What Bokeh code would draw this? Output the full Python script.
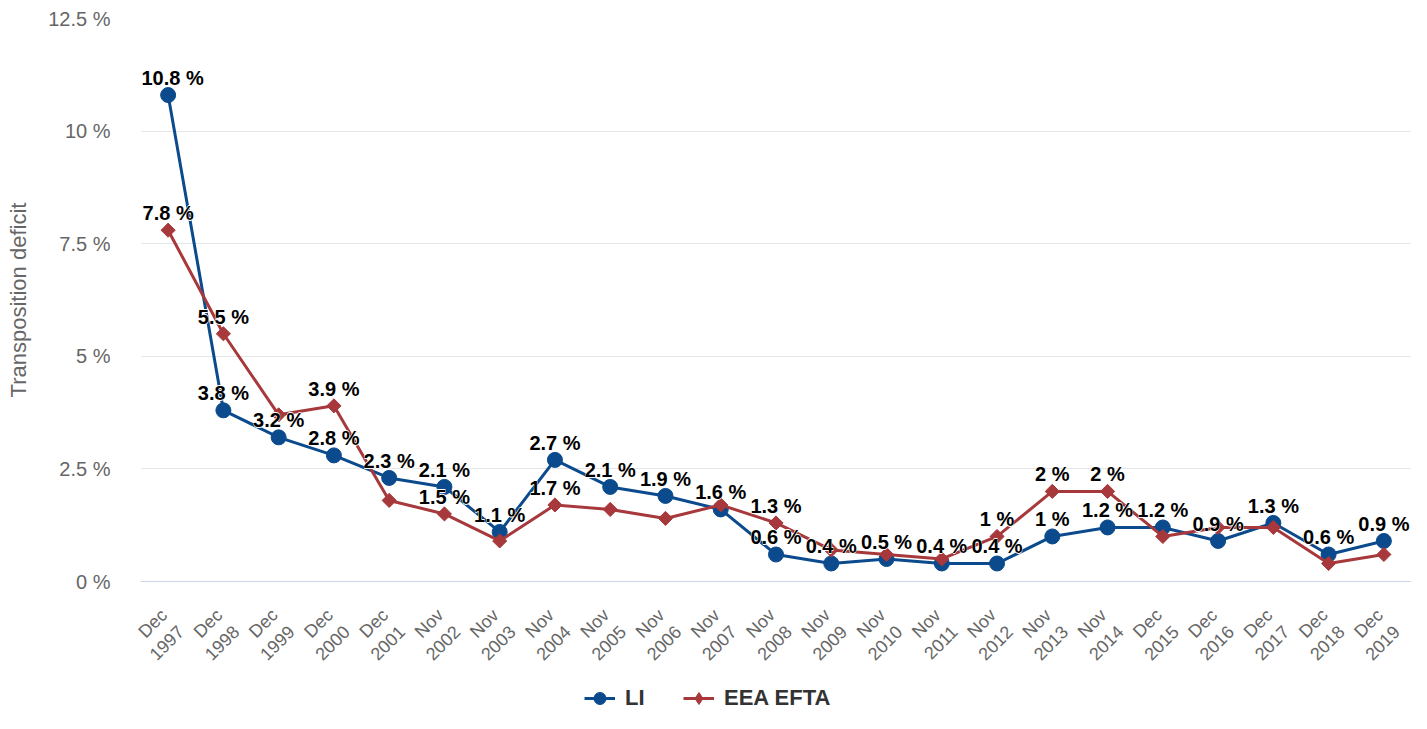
import math
from bokeh.plotting import figure
from bokeh.layouts import column
from bokeh.models import (ColumnDataSource, FixedTicker, Legend, LegendItem, Range1d,
                          CustomJSTickFormatter)
from bokeh.embed import file_html
from bokeh.resources import INLINE
from bokeh.core.properties import value

# ---- data ----
months = ["Dec", "Dec", "Dec", "Dec", "Dec", "Nov", "Nov", "Nov", "Nov", "Nov", "Nov", "Nov",
          "Nov", "Nov", "Nov", "Nov", "Nov", "Nov", "Dec", "Dec", "Dec", "Dec", "Dec"]
years = [1997, 1998, 1999, 2000, 2001, 2002, 2003, 2004, 2005, 2006, 2007, 2008,
         2009, 2010, 2011, 2012, 2013, 2014, 2015, 2016, 2017, 2018, 2019]
li = [10.8, 3.8, 3.2, 2.8, 2.3, 2.1, 1.1, 2.7, 2.1, 1.9, 1.6, 0.6,
      0.4, 0.5, 0.4, 0.4, 1.0, 1.2, 1.2, 0.9, 1.3, 0.6, 0.9]
eea_efta = [7.8, 5.5, 3.7, 3.9, 1.8, 1.5, 0.9, 1.7, 1.6, 1.4, 1.7, 1.3,
            0.7, 0.6, 0.5, 1.0, 2.0, 2.0, 1.0, 1.2, 1.2, 0.4, 0.6]
# labels of the EEA EFTA series that are not hidden by overlap in the original
eea_efta_label_shown = [True, True, False, True, False, True, False, True, False, False, False, True,
                        False, False, False, True, True, True, False, False, False, False, False]
y_ticks = [0, 2.5, 5, 7.5, 10, 12.5]
y_title = "Transposition deficit"
series_names = ["LI", "EEA EFTA"]

BLUE = "#0b4a8c"
RED = "#a7383b"
FONT = "Liberation Sans"
LBL_SIZE = 20

# ---- geometry ----
W, H_MAIN, H_LEG = 1411, 683, 30
BORDER_L, BORDER_R, BORDER_T = 140, 0, 18
FRAME_BOTTOM = 581
BORDER_B = H_MAIN - FRAME_BOTTOM
TICK_SHIFT = 0.08  # rotated category labels sit slightly right of the category centre
LEGEND_LEFT = 444  # legend offset from the plot-area left edge (px)

def fmt(v):
    return f"{v:g} %"

# approximate bold Arial advance widths (em) to keep labels inside the plot area
_cw = {".": 0.278, " ": 0.278, "%": 0.889}
def text_w(s):
    return sum(_cw.get(c, 0.556) for c in s) * LBL_SIZE

n = len(years)
xs = list(range(n))
tick_labels = [f"{m}\n{y}" for m, y in zip(months, years)]
frame_w = W - BORDER_L - BORDER_R
px_per_cat = frame_w / n

def justify(labels):
    offs = []
    for i, s in enumerate(labels):
        cx = (i + 0.5) * px_per_cat
        w = text_w(s) + 2
        off = 0.0
        if cx - w / 2 < 0:
            off = w / 2 - cx
        elif cx + w / 2 > frame_w:
            off = frame_w - (cx + w / 2)
        offs.append(off)
    return offs

li_lbl = [fmt(v) for v in li]
ef_lbl = [fmt(v) if s else "" for v, s in zip(eea_efta, eea_efta_label_shown)]
src = ColumnDataSource(dict(x=xs, li=li, ef=eea_efta, li_lbl=li_lbl, ef_lbl=ef_lbl,
                            li_off=justify(li_lbl), ef_off=justify(ef_lbl)))

p = figure(width=W, height=H_MAIN, output_backend="svg", toolbar_location=None,
           x_range=Range1d(-0.5, n - 0.5), y_range=Range1d(0, 12.5),
           min_border_left=BORDER_L, min_border_right=BORDER_R, min_border_top=BORDER_T,
           min_border_bottom=BORDER_B)
p.outline_line_color = None
p.xgrid.grid_line_color = None
p.ygrid.grid_line_color = "#e6e6e6"
p.ygrid.grid_line_width = 1

# y axis
p.yaxis.ticker = FixedTicker(ticks=y_ticks)
p.yaxis.formatter = CustomJSTickFormatter(code="return tick.toString() + ' %';")
p.yaxis.axis_line_color = None
p.yaxis.major_tick_line_color = None
p.yaxis.minor_tick_line_color = None
p.yaxis.major_tick_out = 0
p.yaxis.major_label_standoff = 30
p.yaxis.major_label_text_font = FONT
p.yaxis.major_label_text_font_size = "20px"
p.yaxis.major_label_text_color = "#666666"
p.yaxis.axis_label = y_title
p.yaxis.axis_label_text_font = FONT
p.yaxis.axis_label_text_font_size = "22px"
p.yaxis.axis_label_text_font_style = "normal"
p.yaxis.axis_label_text_color = "#666666"
p.yaxis.axis_label_standoff = 14

# x axis
p.xaxis.ticker = FixedTicker(ticks=[i + TICK_SHIFT for i in xs])
p.xaxis.formatter = CustomJSTickFormatter(args=dict(labels=tick_labels, shift=TICK_SHIFT),
                                          code="return labels[Math.round(tick - shift)];")
p.xaxis.axis_line_color = "#ccd6eb"
p.xaxis.axis_line_width = 1
p.xaxis.major_tick_line_color = None
p.xaxis.minor_tick_line_color = None
p.xaxis.major_label_orientation = math.pi / 4
p.xaxis.major_label_standoff = 33
p.xaxis.major_label_text_font = FONT
p.xaxis.major_label_text_font_size = "18px"
p.xaxis.major_label_text_color = "#666666"

# series
li_line = p.line("x", "li", source=src, line_color=BLUE, line_width=3)
li_mark = p.scatter("x", "li", source=src, marker="circle", size=15, fill_color=BLUE, line_color=BLUE)
ef_line = p.line("x", "ef", source=src, line_color=RED, line_width=3)
ef_mark = p.scatter("x", "ef", source=src, marker="square", angle=math.pi / 4, size=10,
                    fill_color=RED, line_color=RED, line_width=1)

# data labels: white halo underneath, black bold text on top
pairs = (("li_lbl", "li", "li_off"), ("ef_lbl", "ef", "ef_off"))
LBL_DY = -17
for col, ycol, ocol in pairs:
    for dx, dy in ((-1, 0), (1, 0), (0, -1), (0, 1)):
        p.text("x", ycol, text=col, source=src, text_align="center", text_baseline="alphabetic",
               x_offset=ocol, y_offset=LBL_DY + dy,
               text_font=value(FONT), text_font_size=f"{LBL_SIZE}px",
               text_font_style="bold", text_color="white", level="overlay")
for col, ycol, ocol in pairs:
    p.text("x", ycol, text=col, source=src, text_align="center", text_baseline="alphabetic",
           x_offset=ocol, y_offset=LBL_DY, text_font=value(FONT), text_font_size=f"{LBL_SIZE}px",
           text_font_style="bold", text_color="black", level="overlay")

# ---- legend strip ----
lp = figure(width=W, height=H_LEG, output_backend="svg", toolbar_location=None,
            x_axis_location=None, y_axis_location=None,
            x_range=Range1d(0, 1), y_range=Range1d(0, 1),
            min_border_left=BORDER_L, min_border_right=BORDER_R, min_border_top=0, min_border_bottom=0)
lp.outline_line_color = None
lp.grid.visible = False
nan = float("nan")
proxy = ColumnDataSource(dict(x=[nan], y=[nan]))  # legend-only renderers (draw nothing)
l1 = lp.line("x", "y", source=proxy, line_color=BLUE, line_width=3)
m1 = lp.scatter("x", "y", source=proxy, marker="circle", size=15, fill_color=BLUE, line_color=BLUE)
l2 = lp.line("x", "y", source=proxy, line_color=RED, line_width=3)
m2 = lp.scatter("x", "y", source=proxy, marker="diamond", size=15, fill_color=RED, line_color=RED)
legend = Legend(items=[LegendItem(label=series_names[0], renderers=[l1, m1]),
                       LegendItem(label=series_names[1], renderers=[l2, m2])],
                orientation="horizontal", location=(LEGEND_LEFT, 0),
                label_text_font=FONT, label_text_font_size="22px", label_text_font_style="bold",
                label_text_color="#333333", glyph_width=31, glyph_height=30, spacing=38,
                label_standoff=10, padding=0, margin=0, border_line_color=None,
                background_fill_alpha=0)
lp.add_layout(legend)

layout = column(p, lp, spacing=0)
open("out.html", "w").write(file_html(layout, INLINE))
